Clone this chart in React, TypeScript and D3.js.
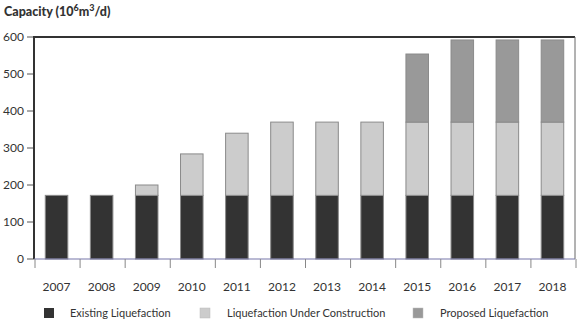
import React, { useEffect, useRef } from 'react';
import * as d3 from 'd3';

const years = ['2007', '2008', '2009', '2010', '2011', '2012', '2013', '2014', '2015', '2016', '2017', '2018'];
const existing = [172, 172, 172, 172, 172, 172, 172, 172, 172, 172, 172, 172];
const underConstruction = [0, 0, 28, 112, 168, 198, 198, 198, 198, 198, 198, 198];
const proposed = [0, 0, 0, 0, 0, 0, 0, 0, 184, 222, 222, 222];
const yTicks = [0, 100, 200, 300, 400, 500, 600];
const seriesNames = ['Existing Liquefaction', 'Liquefaction Under Construction', 'Proposed Liquefaction'];
const colors = ['#333333', '#cccccc', '#999999'];

const font = '"Century Gothic", "Lato", "Open Sans", sans-serif';

export default function App() {
  const svgRef = useRef<SVGSVGElement>(null);

  useEffect(() => {
    const w = 580;
    const h = 326;
    const m = { left: 34, right: 5, top: 37, bottom: 67 };

    const svg = d3.select(svgRef.current)
      .attr('width', w)
      .attr('height', h)
      .style('display', 'block')
      .style('background', '#fff');
    svg.selectAll('*').remove();

    const x = d3.scaleBand()
      .domain(years)
      .range([m.left, w - m.right])
      .paddingInner(0.5)
      .paddingOuter(0.25);

    const y = d3.scaleLinear()
      .domain([0, 600])
      .range([h - m.bottom, m.top]);

    const rows = years.map((yr, i) => ({ yr, existing: existing[i], construction: underConstruction[i], proposed: proposed[i] }));
    const stack = d3.stack<any>().keys(['existing', 'construction', 'proposed'])(rows);

    // title
    const title = svg.append('text')
      .attr('x', 4)
      .attr('y', 16)
      .attr('font-family', font)
      .attr('font-weight', 900)
      .attr('font-size', 12.5)
      .attr('fill', '#333');
    title.append('tspan').text('Capacity (10');
    title.append('tspan').attr('dy', -5).attr('font-size', 9).text('6');
    title.append('tspan').attr('dy', 5).text('m');
    title.append('tspan').attr('dy', -5).attr('font-size', 9).text('3');
    title.append('tspan').attr('dy', 5).text('/d)');

    // y ticks
    const yAxis = svg.append('g');
    yTicks.forEach(t => {
      yAxis.append('line')
        .attr('x1', m.left - 7).attr('x2', m.left)
        .attr('y1', y(t)).attr('y2', y(t))
        .attr('stroke', '#555').attr('stroke-width', 1);
      yAxis.append('text')
        .attr('x', m.left - 10)
        .attr('y', y(t))
        .attr('dy', '0.35em')
        .attr('text-anchor', 'end')
        .attr('font-family', font)
        .attr('font-size', 12)
        .attr('fill', '#333')
        .text(t);
    });

    // bars
    stack.forEach((s, k) => {
      svg.append('g')
        .selectAll('rect')
        .data(s)
        .enter()
        .filter((d: any) => d[1] - d[0] > 0)
        .append('rect')
        .attr('x', (d: any) => x(d.data.yr)!)
        .attr('y', (d: any) => y(d[1]))
        .attr('width', x.bandwidth())
        .attr('height', (d: any) => y(d[0]) - y(d[1]))
        .attr('fill', colors[k])
        .attr('stroke', '#8a8a8a')
        .attr('stroke-width', 1);
    });

    // frame
    svg.append('line')
      .attr('x1', m.left).attr('x2', w - m.right)
      .attr('y1', m.top).attr('y2', m.top)
      .attr('stroke', '#333').attr('stroke-width', 2);
    svg.append('line')
      .attr('x1', m.left).attr('x2', m.left)
      .attr('y1', m.top - 1).attr('y2', y(0))
      .attr('stroke', '#333').attr('stroke-width', 2);
    svg.append('line')
      .attr('x1', w - m.right).attr('x2', w - m.right)
      .attr('y1', m.top).attr('y2', y(0))
      .attr('stroke', '#666').attr('stroke-width', 1);
    svg.append('line')
      .attr('x1', m.left).attr('x2', w - m.right)
      .attr('y1', y(0)).attr('y2', y(0))
      .attr('stroke', '#7777aa').attr('stroke-width', 1.2);

    // x ticks at category boundaries
    const xAxis = svg.append('g');
    d3.range(years.length + 1).forEach(i => {
      const xx = m.left + 1 + i * (w - m.right - m.left) / years.length;
      xAxis.append('line')
        .attr('x1', xx).attr('x2', xx)
        .attr('y1', y(0)).attr('y2', y(0) + 9)
        .attr('stroke', '#888').attr('stroke-width', 1);
    });
    years.forEach(yr => {
      xAxis.append('text')
        .attr('x', x(yr)! + x.bandwidth() / 2)
        .attr('y', y(0) + 32)
        .attr('text-anchor', 'middle')
        .attr('font-family', font)
        .attr('font-size', 12)
        .attr('fill', '#333')
        .text(yr);
    });

    // legend
    const legendX = [44, 200, 413];
    const legendTextX = [70, 227, 440];
    seriesNames.forEach((n, i) => {
      svg.append('rect')
        .attr('x', legendX[i]).attr('y', 308)
        .attr('width', 10).attr('height', 10)
        .attr('fill', colors[i])
        .attr('stroke', i === 0 ? 'none' : '#bbb')
        .attr('stroke-width', 0.5);
      svg.append('text')
        .attr('x', legendTextX[i])
        .attr('y', 313)
        .attr('dy', '0.35em')
        .attr('font-family', font)
        .attr('font-size', 11)
        .attr('fill', '#333')
        .text(n);
    });
  }, []);

  return (
    <div style={{ position: 'absolute', left: 0, top: 0 }}>
      <svg ref={svgRef} />
    </div>
  );
}
